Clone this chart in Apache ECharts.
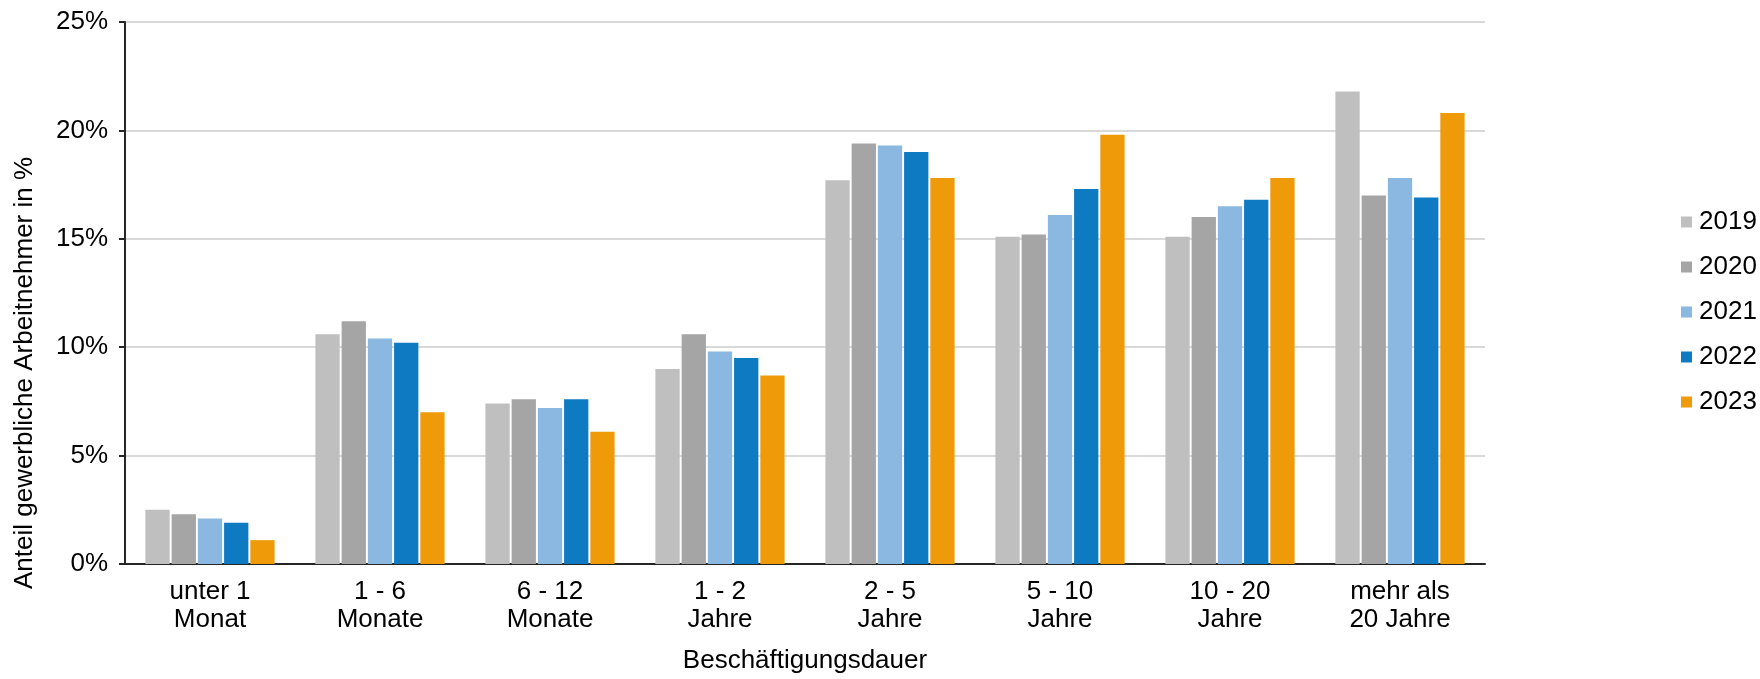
<!DOCTYPE html>
<html>
<head>
<meta charset="utf-8">
<script src="https://cdn.jsdelivr.net/npm/echarts@6/dist/echarts.min.js"></script>
<style>
html,body{margin:0;padding:0;background:#fff;}
#chart{width:1760px;height:679px;}
</style>
</head>
<body>
<div id="chart"></div>
<script>
const categories = ['unter 1\nMonat', '1 - 6\nMonate', '6 - 12\nMonate', '1 - 2\nJahre', '2 - 5\nJahre', '5 - 10\nJahre', '10 - 20\nJahre', 'mehr als\n20 Jahre'];
const years = ['2019', '2020', '2021', '2022', '2023'];
const v2019 = [2.5, 10.6, 7.4, 9.0, 17.7, 15.1, 15.1, 21.8];
const v2020 = [2.3, 11.2, 7.6, 10.6, 19.4, 15.2, 16.0, 17.0];
const v2021 = [2.1, 10.4, 7.2, 9.8, 19.3, 16.1, 16.5, 17.8];
const v2022 = [1.9, 10.2, 7.6, 9.5, 19.0, 17.3, 16.8, 16.9];
const v2023 = [1.1, 7.0, 6.1, 8.7, 17.8, 19.8, 17.8, 20.8];
const yTicks = [0, 5, 10, 15, 20, 25];

const colors = ['#BFBFBF', '#A5A5A5', '#8AB8E1', '#0E7AC1', '#EF9A09'];
const seriesValues = [v2019, v2020, v2021, v2022, v2023];
const FONT = "'Liberation Sans', Arial, sans-serif";

const chart = echarts.init(document.getElementById('chart'), null, {renderer: 'canvas'});
chart.setOption({
  animation: false,
  backgroundColor: '#ffffff',
  textStyle: {fontFamily: FONT, color: '#000'},
  grid: {left: 125, right: 275, top: 22, bottom: 111, containLabel: false},
  legend: {
    orient: 'vertical',
    left: 1681,
    top: 209,
    padding: 0,
    itemWidth: 11,
    itemHeight: 11,
    itemGap: 19,
    icon: 'rect',
    data: years,
    textStyle: {fontSize: 26, fontFamily: FONT, color: '#000', padding: [0, 0, 0, 2]}
  },
  xAxis: {
    type: 'category',
    data: categories,
    name: 'Beschäftigungsdauer',
    nameLocation: 'middle',
    nameGap: 84,
    nameTextStyle: {fontSize: 26, fontFamily: FONT, color: '#000'},
    axisLine: {lineStyle: {color: '#262626', width: 2}},
    axisTick: {show: false},
    axisLabel: {fontSize: 26, fontFamily: FONT, color: '#000', lineHeight: 28, margin: 14, interval: 0}
  },
  yAxis: {
    type: 'value',
    min: yTicks[0],
    max: yTicks[yTicks.length - 1],
    interval: 5,
    axisLine: {show: true, lineStyle: {color: '#262626', width: 2}},
    axisTick: {show: true, length: 6, lineStyle: {color: '#262626', width: 2}},
    axisLabel: {fontSize: 26, fontFamily: FONT, color: '#000', margin: 17, formatter: '{value}%'},
    splitLine: {lineStyle: {color: '#D9D9D9', width: 2}}
  },
  graphic: [{
    type: 'text',
    x: 25,
    y: 373,
    rotation: Math.PI / 2,
    style: {
      text: 'Anteil gewerbliche Arbeitnehmer in %',
      fontSize: 26,
      fontFamily: FONT,
      fill: '#000',
      align: 'center',
      verticalAlign: 'middle'
    }
  }],
  series: years.map((y, i) => ({
    name: y,
    type: 'bar',
    data: seriesValues[i],
    barGap: '8%',
    barCategoryGap: '24%',
    itemStyle: {color: colors[i]}
  }))
});
</script>
</body>
</html>
